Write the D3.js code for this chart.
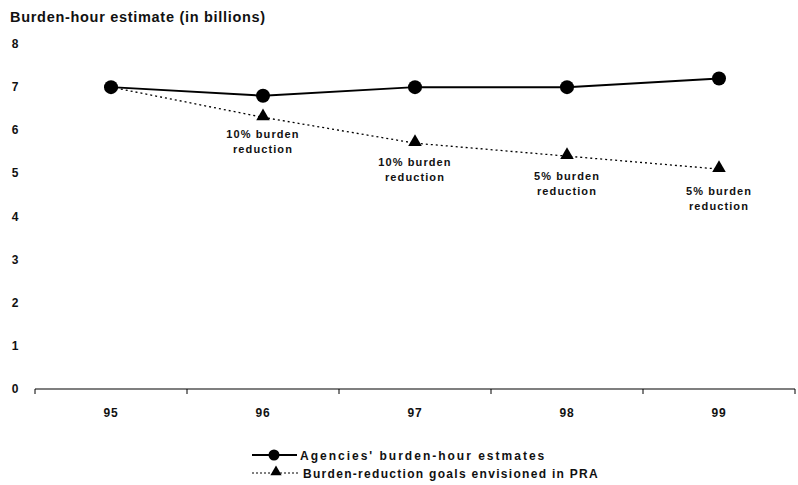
<!DOCTYPE html>
<html>
<head>
<meta charset="utf-8">
<script src="https://cdn.jsdelivr.net/npm/d3@7"></script>
<style>
  body { margin: 0; background: #fff; }
  svg { display: block; font-family: "Liberation Sans", Arial, sans-serif; }
</style>
</head>
<body>
<div id="chart"></div>
<script>
// Data
const YEARS = ['95', '96', '97', '98', '99']
const AGENCY_EST = [7.0, 6.8, 7.0, 7.0, 7.2]
const PRA_GOALS = [7.0, 6.3, 5.7, 5.4, 5.1]
const GOAL_NOTES = [null, ['10% burden', 'reduction'], ['10% burden', 'reduction'],
  ['5% burden', 'reduction'], ['5% burden', 'reduction']]
const Y_TICKS = [0, 1, 2, 3, 4, 5, 6, 7, 8]
const LEGEND = ["Agencies' burden-hour estmates", 'Burden-reduction goals envisioned in PRA']

const width = 798
const height = 485
const margin = { top: 44, right: 3, bottom: 96, left: 35 }
// how far below each triangle its note starts (layout only)
const noteDy = [0, 21, 23, 24, 26]

const svg = d3.select('#chart').append('svg')
  .attr('width', width).attr('height', height)

const x = d3.scaleBand()
  .domain(YEARS)
  .range([margin.left, width - margin.right])

const y = d3.scaleLinear()
  .domain([0, 8])
  .range([height - margin.bottom, margin.top])

// Title
svg.append('text')
  .attr('x', 10).attr('y', 22)
  .attr('font-size', '14.5px').attr('font-weight', 'bold')
  .attr('letter-spacing', '0.7px')
  .attr('fill', '#111')
  .text('Burden-hour estimate (in billions)')

// Y tick labels (no axis line)
svg.append('g')
  .selectAll('text')
  .data(Y_TICKS)
  .join('text')
  .attr('x', 15).attr('y', d => y(d) + 4)
  .attr('text-anchor', 'middle')
  .attr('font-size', '12px').attr('font-weight', 'bold')
  .attr('fill', '#111')
  .text(d => d)

// X axis with ticks at band edges
const xAxisG = svg.append('g')
  .attr('transform', `translate(0,${y(0)})`)
xAxisG.append('line')
  .attr('x1', margin.left).attr('x2', width - margin.right)
  .attr('stroke', '#000').attr('stroke-width', 1.2)
const edges = YEARS.map(d => x(d)).concat([x(YEARS[YEARS.length - 1]) + x.bandwidth()])
xAxisG.selectAll('.edge')
  .data(edges)
  .join('line')
  .attr('class', 'edge')
  .attr('x1', d => d).attr('x2', d => d)
  .attr('y1', 0).attr('y2', 5)
  .attr('stroke', '#000').attr('stroke-width', 1)
xAxisG.selectAll('.lbl')
  .data(YEARS)
  .join('text')
  .attr('class', 'lbl')
  .attr('x', d => x(d) + x.bandwidth() / 2)
  .attr('y', 28)
  .attr('text-anchor', 'middle')
  .attr('font-size', '12px').attr('font-weight', 'bold')
  .attr('letter-spacing', '0.8px')
  .attr('fill', '#111')
  .text(d => d)

const cx = i => x(YEARS[i]) + x.bandwidth() / 2

// Goals line (dotted)
const lineFn = d3.line().x((d, i) => cx(i)).y(d => y(d))
svg.append('path')
  .attr('d', lineFn(PRA_GOALS))
  .attr('fill', 'none').attr('stroke', '#000')
  .attr('stroke-width', 1.3)
  .attr('stroke-dasharray', '2,3')

// Agency line (solid)
svg.append('path')
  .attr('d', lineFn(AGENCY_EST))
  .attr('fill', 'none').attr('stroke', '#000')
  .attr('stroke-width', 2)

const tri = d3.symbol().type(d3.symbolTriangle).size(80)

svg.append('g')
  .selectAll('path')
  .data(PRA_GOALS.slice(1))
  .join('path')
  .attr('d', tri)
  .attr('transform', (d, i) => `translate(${cx(i + 1)},${y(d) - 1})`)
  .attr('fill', '#000')

svg.append('g')
  .selectAll('circle')
  .data(AGENCY_EST)
  .join('circle')
  .attr('cx', (d, i) => cx(i)).attr('cy', d => y(d))
  .attr('r', 7).attr('fill', '#000')

// Reduction notes under the triangles
const notes = svg.append('g')
GOAL_NOTES.forEach((lines, i) => {
  if (!lines) return
  const t = notes.append('text')
    .attr('text-anchor', 'middle')
    .attr('font-size', '11px').attr('font-weight', 'bold')
    .attr('letter-spacing', '1.1px')
    .attr('fill', '#111')
  lines.forEach((s, j) => {
    t.append('tspan')
      .attr('x', cx(i))
      .attr('y', y(PRA_GOALS[i]) + noteDy[i] + j * 15)
      .text(s)
  })
})

// Legend
const lg = svg.append('g').attr('transform', 'translate(252,455)')
lg.append('line').attr('x1', 0).attr('x2', 45).attr('stroke', '#000').attr('stroke-width', 2)
lg.append('circle').attr('cx', 22).attr('r', 5.5).attr('fill', '#000')
lg.append('text').attr('x', 48).attr('y', 4.5)
  .attr('font-size', '12px').attr('font-weight', 'bold')
  .attr('letter-spacing', '2px').attr('fill', '#111')
  .text(LEGEND[0])
const lg2 = svg.append('g').attr('transform', 'translate(252,473)')
lg2.append('line').attr('x1', 0).attr('x2', 48).attr('stroke', '#000')
  .attr('stroke-width', 1).attr('stroke-dasharray', '2,2')
lg2.append('path').attr('d', d3.symbol().type(d3.symbolTriangle).size(55))
  .attr('transform', 'translate(24,-1)').attr('fill', '#000')
lg2.append('text').attr('x', 51).attr('y', 4.5)
  .attr('font-size', '12px').attr('font-weight', 'bold')
  .attr('letter-spacing', '1.3px').attr('fill', '#111')
  .text(LEGEND[1])
</script>
</body>
</html>
